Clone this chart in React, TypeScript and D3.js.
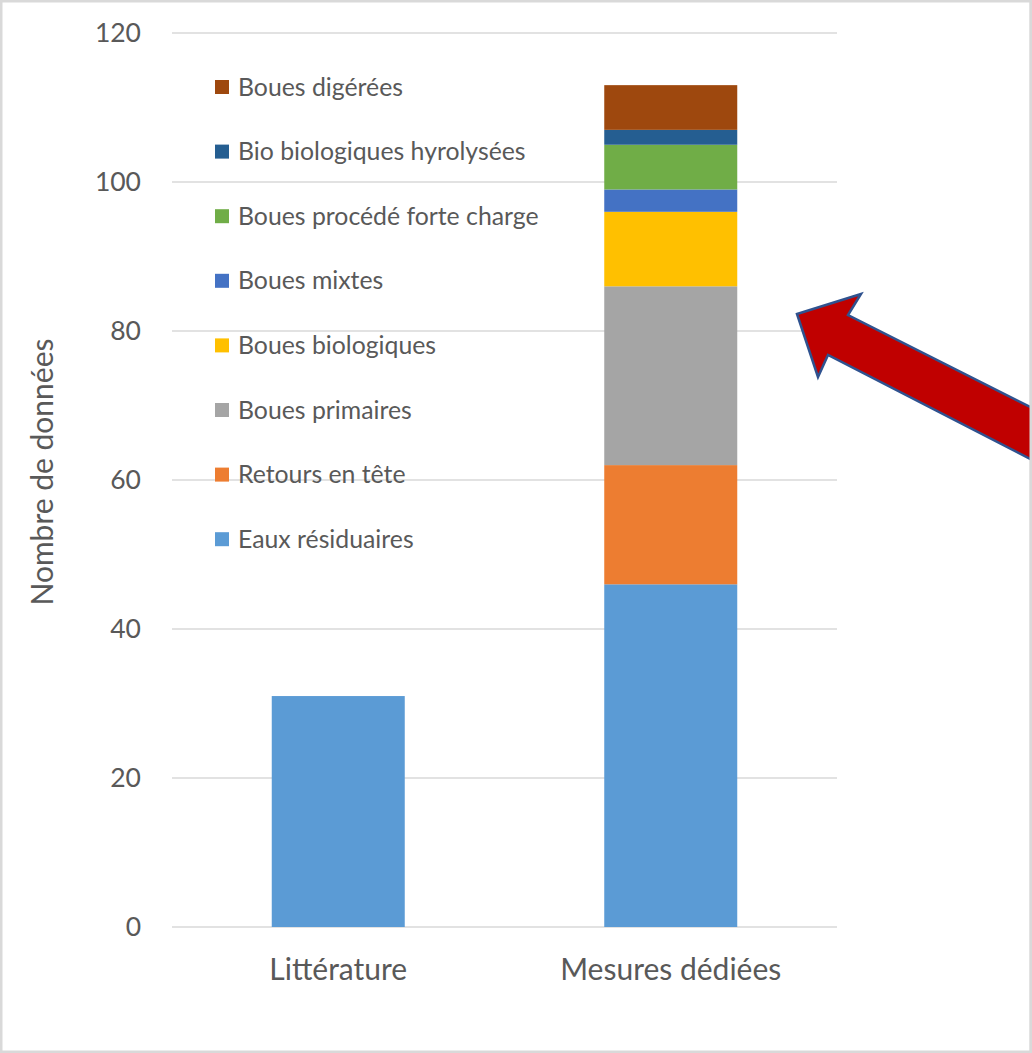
import React, { useRef, useEffect } from "react"
import * as d3 from "d3"

// categories on the x axis
const categories = ["Littérature", "Mesures dédiées"]

// series, bottom to top of the stack
const seriesNames = [
  "Eaux résiduaires",
  "Retours en tête",
  "Boues primaires",
  "Boues biologiques",
  "Boues mixtes",
  "Boues procédé forte charge",
  "Bio biologiques hyrolysées",
  "Boues digérées",
]
const seriesColors = ["#5B9BD5", "#ED7D31", "#A5A5A5", "#FFC000", "#4472C4", "#70AD47", "#255E91", "#9E480E"]

// one value per category for each series
const eauxResiduaires = [31, 46]
const retoursEnTete = [0, 16]
const bouesPrimaires = [0, 24]
const bouesBiologiques = [0, 10]
const bouesMixtes = [0, 3]
const bouesForteCharge = [0, 6]
const bioHydrolysees = [0, 2]
const bouesDigerees = [0, 6]

const yTicks = [0, 20, 40, 60, 80, 100, 120]

const FONT = "Lato, 'Open Sans', sans-serif"
const TEXT = "#595959"

const App: React.FC = () => {
  const svgRef = useRef<SVGSVGElement | null>(null)
  const width = 1032
  const height = 1053

  useEffect(() => {
    const svg = d3.select(svgRef.current)
    svg.selectAll("*").remove()

    const margin = { top: 33, right: 195, bottom: 126, left: 172 }

    const values = [eauxResiduaires, retoursEnTete, bouesPrimaires, bouesBiologiques,
      bouesMixtes, bouesForteCharge, bioHydrolysees, bouesDigerees]
    const table = categories.map((cat, i) => {
      const row: any = { category: cat }
      seriesNames.forEach((name, s) => { row[name] = values[s][i] })
      return row
    })
    const stacked = d3.stack<any>().keys(seriesNames)(table)

    const x = d3.scaleBand<string>()
      .domain(categories)
      .range([margin.left, width - margin.right])
      .paddingInner(0.6)
      .paddingOuter(0.3)

    const y = d3.scaleLinear()
      .domain([0, 120])
      .range([height - margin.bottom, margin.top])

    const color = d3.scaleOrdinal<string, string>().domain(seriesNames).range(seriesColors)

    // frame
    svg.append("rect")
      .attr("x", 1.25).attr("y", 1.25)
      .attr("width", width - 2.5).attr("height", height - 2.5)
      .attr("fill", "#fff")
      .attr("stroke", "#d9d9d9")
      .attr("stroke-width", 2.5)

    // gridlines
    svg.append("g")
      .selectAll("line")
      .data(yTicks)
      .join("line")
      .attr("x1", margin.left)
      .attr("x2", width - margin.right)
      .attr("y1", d => y(d))
      .attr("y2", d => y(d))
      .attr("stroke", "#d9d9d9")
      .attr("stroke-width", 1.3)

    // y tick labels
    svg.append("g")
      .selectAll("text")
      .data(yTicks)
      .join("text")
      .attr("x", margin.left - 31)
      .attr("y", d => y(d))
      .attr("dy", "0.35em")
      .attr("text-anchor", "end")
      .attr("font-family", FONT)
      .attr("font-size", 26.5)
      .attr("fill", TEXT)
      .text(d => d)

    // bars
    svg.append("g")
      .selectAll("g")
      .data(stacked)
      .join("g")
      .attr("fill", d => color(d.key))
      .selectAll("rect")
      .data(d => d)
      .join("rect")
      .attr("x", d => x(d.data.category) as number)
      .attr("width", x.bandwidth())
      .attr("y", d => y(d[1]))
      .attr("height", d => y(d[0]) - y(d[1]))

    // category labels
    svg.append("g")
      .selectAll("text")
      .data(categories)
      .join("text")
      .attr("x", d => (x(d) as number) + x.bandwidth() / 2)
      .attr("y", height - margin.bottom + 42)
      .attr("dy", "0.35em")
      .attr("text-anchor", "middle")
      .attr("font-family", FONT)
      .attr("font-size", 30)
      .attr("fill", TEXT)
      .text(d => d)

    // y axis title
    svg.append("text")
      .attr("transform", `translate(42,472) rotate(-90)`)
      .attr("dy", "0.35em")
      .attr("text-anchor", "middle")
      .attr("font-family", FONT)
      .attr("font-size", 30)
      .attr("fill", TEXT)
      .text("Nombre de données")

    // legend, top entry = top of stack
    const legendNames = [...seriesNames].reverse()
    const legend = svg.append("g")
      .selectAll("g")
      .data(legendNames)
      .join("g")
      .attr("transform", (_d, i) => `translate(215,${87 + i * 64.6})`)
    legend.append("rect")
      .attr("x", 0).attr("y", -7)
      .attr("width", 14).attr("height", 14)
      .attr("fill", d => color(d))
    legend.append("text")
      .attr("x", 23)
      .attr("dy", "0.35em")
      .attr("font-family", FONT)
      .attr("font-size", 24.8)
      .attr("fill", TEXT)
      .text(d => d)

    // annotation arrow pointing at the stacked bar
    const arrow = [
      [797, 314], [861, 294], [848, 315], [1040, 412],
      [1040, 464], [828, 355], [818, 377],
    ]
    svg.append("path")
      .attr("d", d3.line()(arrow as [number, number][]) + "Z")
      .attr("fill", "#C00000")
      .attr("stroke", "#2F528F")
      .attr("stroke-width", 2.5)
      .attr("stroke-linejoin", "miter")

    // redraw frame edge over the arrow
    svg.append("line")
      .attr("x1", width - 1.25).attr("x2", width - 1.25)
      .attr("y1", 0).attr("y2", height)
      .attr("stroke", "#d9d9d9")
      .attr("stroke-width", 2.5)
  }, [])

  return (
    <svg ref={svgRef} width={width} height={height}
      style={{ position: "absolute", left: 0, top: 0, display: "block" }} />
  )
}

export default App
